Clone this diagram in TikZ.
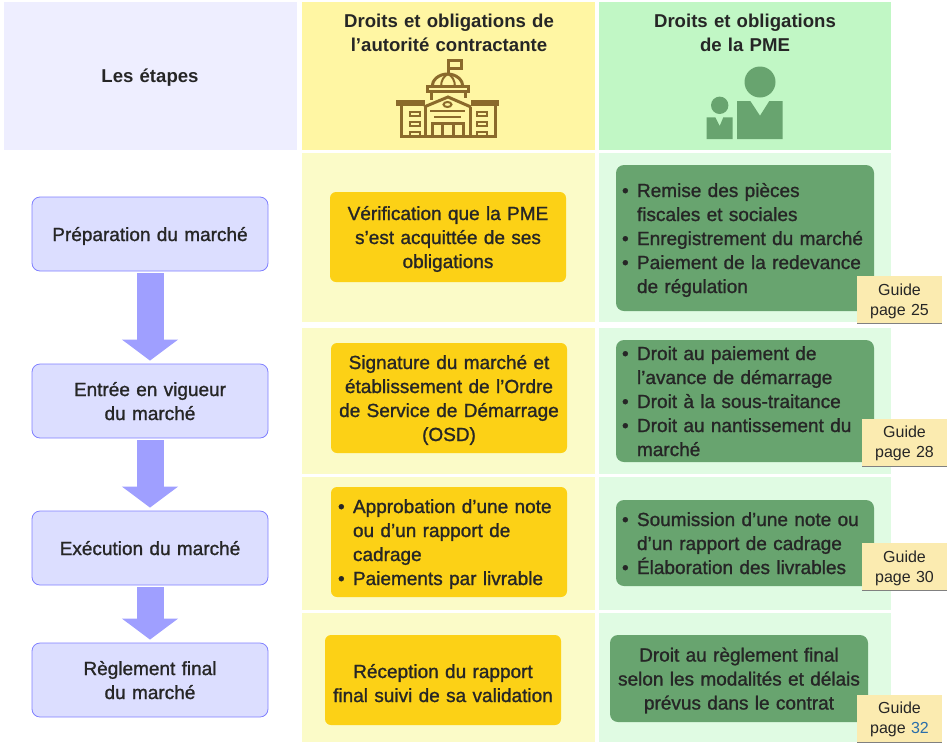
\documentclass[tikz,border=0pt]{standalone}
\usepackage{fontspec}
\setmainfont{Liberation Sans}
\newfontfamily\medfont[FakeBold=1.2]{Liberation Sans}
\usetikzlibrary{arrows.meta,shadows}
\definecolor{encre}{HTML}{262626}
\definecolor{fondetape}{HTML}{EEEEFF}
\definecolor{fondaut}{HTML}{FFF6A3}
\definecolor{fondpme}{HTML}{C1F7C5}
\definecolor{clairaut}{HTML}{FBFBC8}
\definecolor{clairpme}{HTML}{E0FBE3}
\definecolor{bleuetape}{HTML}{DCDEFF}
\definecolor{bordetape}{HTML}{8080FF}
\definecolor{fleche}{HTML}{9F9FFF}
\definecolor{jaune}{HTML}{FCD116}
\definecolor{vert}{HTML}{68A46F}
\definecolor{note}{HTML}{FBEBB0}
\definecolor{brun}{HTML}{8B6A2B}
\definecolor{lien}{HTML}{2A6EAA}
\newcommand{\puce}{\makebox[15pt][l]{•}}
\newcommand{\suite}{\hspace*{15pt}}
\tikzset{
  txt/.style={text=encre,align=center,inner sep=0pt,font=\medfont\fontsize{19}{24}\selectfont,
    execute at begin node={\rule{0pt}{18pt}},execute at end node={\rule[-4pt]{0pt}{4pt}}},
  titre/.style={txt,text width=280pt,font=\bfseries\fontsize{18.6}{24}\selectfont,execute at begin node={\rule{0pt}{16pt}}},
  etape/.style={txt,text width=236pt,draw=bordetape,fill=bleuetape,line width=0.8pt,rounded corners=8pt,minimum height=74pt},
  autbox/.style={txt,text width=236pt,fill=jaune,rounded corners=6pt},
  pmebox/.style={txt,text width=258pt,fill=vert,rounded corners=8pt},
  liste/.style={align=left,inner xsep=6pt,text width=246pt},
  guide/.style={text=encre,align=center,inner sep=0pt,fill=note,text width=85pt,minimum height=47pt,
    font=\fontsize{16}{20}\selectfont,execute at begin node={\rule{0pt}{15pt}},execute at end node={\rule[-4pt]{0pt}{4pt}},
    drop shadow={shadow xshift=0.4pt,shadow yshift=-1pt,fill=black!50,opacity=1}},
  passage/.style={draw=fleche,line width=27pt,shorten <=2pt,shorten >=3pt,-{Triangle[width=55pt,length=21pt]}},
  icone/.style={draw=brun,line width=3pt}
}
\begin{document}
\begin{tikzpicture}[x=1pt,y=-1pt]
\useasboundingbox (0,0) rectangle (947,742);
% fonds
\fill[fondetape] (4,2) rectangle (297,150);
\fill[fondaut] (302,2) rectangle (595,150);
\fill[fondpme] (599,2) rectangle (891,150);
\foreach \ya/\yb in {153/322,328/474,477/610,613/742} {
  \fill[clairaut] (302,\ya) rectangle (595,\yb);
  \fill[clairpme] (599,\ya) rectangle (891,\yb);
}
% en-tetes
\node[titre] (hetapes) at (150,75) {Les étapes};
\node[titre] (haut) at (449,32) {Droits et obligations de\\l’autorité contractante};
\node[titre] (hpme) at (745,32) {Droits et obligations\\de la PME};
% batiment
\draw[icone] (448,75) -- (448,60) -- (461,60) -- (461,68) -- (449,68);
\draw[icone] (432,87) arc (180:360:15.5 and 13);
\draw[icone,line width=2pt] (441,87) .. controls (441,80) and (444,76) .. (448,74) .. controls (452,76) and (455,80) .. (455,87);
\draw[icone] (427,86) rectangle (468,91);
\draw[icone] (431,91) -- (431,100);
\draw[icone] (465,91) -- (465,98);
\draw[icone,line width=5.5pt] (396,103) -- (425,103);
\draw[icone,line width=5.5pt] (471,103) -- (499,103);
\draw[icone] (401,106) -- (401,136) -- (495,136) -- (495,106);
\draw[icone] (424,107) -- (448,97) -- (471,107);
\draw[icone] (425,107) -- (425,137);
\draw[icone] (470,107) -- (470,137);
\draw[icone,line width=2pt] (447.5,104.5) ellipse (4 and 2.5);
\draw[icone,line width=2pt] (430,111) -- (465,111);
\draw[icone,line width=2pt] (434,117) -- (461,117);
\draw[icone] (432,137) -- (432,123) -- (463,123) -- (463,137);
\draw[icone] (442,123) -- (442,137);
\draw[icone] (453,123) -- (453,137);
\foreach \xa in {410,477} \foreach \ya in {112,122,132} \draw[icone,line width=2.2pt] (\xa,\ya) rectangle ++(10,4);
% personnes
\fill[vert] (760,82) circle (15.5);
\fill[vert] (737,101) -- (750.3,101) -- (760,115.7) -- (769.3,101) -- (782.7,101) -- (782.7,139) -- (737,139) -- cycle;
\fill[vert] (719.7,105.3) circle (8.7);
\fill[vert] (706.7,117.3) -- (715.3,117.3) -- (719.7,126) -- (723.3,117.3) -- (732.7,117.3) -- (732.7,139) -- (706.7,139) -- cycle;
% etapes
\node[etape] (prep) at (150,234) {Préparation du marché};
\node[etape] (entree) at (150,401) {Entrée en vigueur\\du marché};
\node[etape] (exec) at (150,548) {Exécution du marché};
\node[etape] (regl) at (150,680) {Règlement final\\du marché};
\draw[passage] (prep) -- (entree);
\draw[passage] (entree) -- (exec);
\draw[passage] (exec) -- (regl);
% autorite
\node[autbox,minimum height=90pt] (aut1) at (448,237) {Vérification que la PME\\s’est acquittée de ses\\obligations};
\node[autbox,minimum height=110pt] (aut2) at (449,398) {Signature du marché et\\établissement de l’Ordre\\de Service de Démarrage\\(OSD)};
\node[autbox,minimum height=110pt,align=left,inner xsep=7pt,text width=222pt] (aut3) at (449,542) {\puce Approbation d’une note\\\suite ou d’un rapport de\\\suite cadrage\\\puce Paiements par livrable};
\node[autbox,minimum height=90pt,execute at begin node={\rule{0pt}{24pt}}] (aut4) at (443,680) {Réception du rapport\\final suivi de sa validation};
% pme
\node[pmebox,liste,minimum height=146pt] (pme1) at (745,238) {\puce Remise des pièces\\\suite fiscales et sociales\\\puce Enregistrement du marché\\\puce Paiement de la redevance\\\suite de régulation};
\node[pmebox,liste,minimum height=122pt] (pme2) at (745,401) {\puce Droit au paiement de\\\suite l’avance de démarrage\\\puce Droit à la sous-traitance\\\puce Droit au nantissement du\\\suite marché};
\node[pmebox,liste,minimum height=86pt] (pme3) at (745,543) {\puce Soumission d’une note ou\\\suite d’un rapport de cadrage\\\puce Élaboration des livrables};
\node[pmebox,minimum height=87pt] (pme4) at (739,678.5) {Droit au règlement final\\selon les modalités et délais\\prévus dans le contrat};
% renvois
\node[guide] (guide1) at (899.5,299.5) {Guide\\page 25};
\node[guide] (guide2) at (904.5,442) {Guide\\page 28};
\node[guide] (guide3) at (904.5,566.5) {Guide\\page 30};
\node[guide] (guide4) at (899.5,718) {Guide\\page {\color{lien}32}};
\end{tikzpicture}
\end{document}
